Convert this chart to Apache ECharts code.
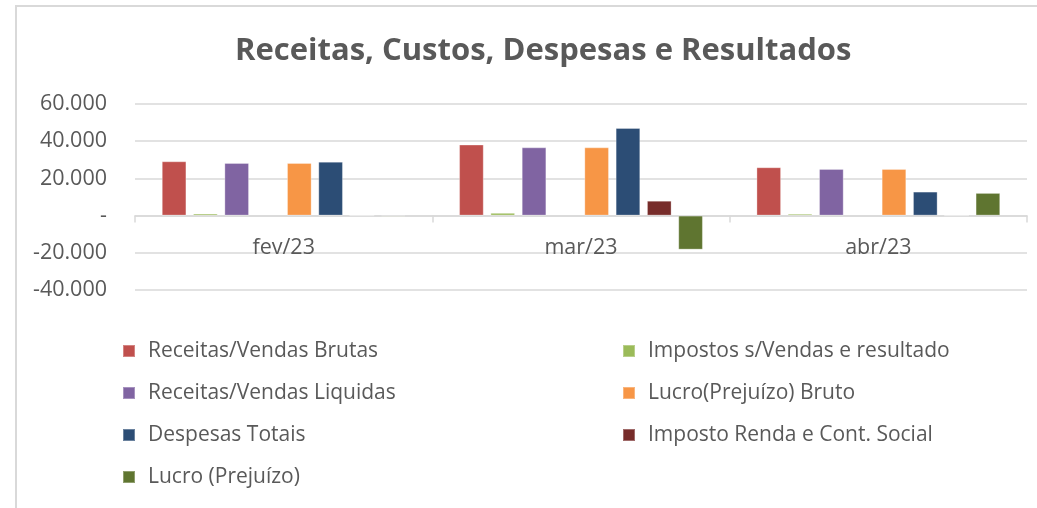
<!DOCTYPE html>
<html>
<head>
<meta charset="utf-8">
<script src="https://cdn.jsdelivr.net/npm/echarts@6/dist/echarts.min.js"></script>
<style>
html,body{margin:0;padding:0;background:#fff;}
#wrap{position:relative;width:1037px;height:508px;}
#frame{position:absolute;left:15px;top:5px;right:0;bottom:0;border-left:2px solid #d9d9d9;border-top:2px solid #d9d9d9;}
#chart{position:absolute;left:0;top:0;width:1037px;height:508px;}
</style>
</head>
<body>
<div id="wrap"><div id="frame"></div><div id="chart"></div></div>
<script>
const categories = ['fev/23', 'mar/23', 'abr/23'];
const receitasBrutas = [29200, 38200, 26000];
const impostosVendas = [1100, 1500, 1000];
const receitasLiquidas = [28300, 36700, 25100];
const custos = [null, null, null];
const lucroBruto = [28300, 36700, 25100];
const despesasTotais = [29000, 47100, 12900];
const impostoRenda = [0, 8000, 0];
const lucro = [-600, -18300, 12200];
const yTicks = [-40000, -20000, 0, 20000, 40000, 60000];

const fontFamily = '"Open Sans", sans-serif';
const textColor = '#595959';

function fmt(v) {
  if (v === 0) return '-';
  const s = Math.abs(v).toString().replace(/\B(?=(\d{3})+(?!\d))/g, '.');
  return (v < 0 ? '-' : '') + s;
}

const seriesDefs = [
  { name: 'Receitas/Vendas Brutas', data: receitasBrutas, color: '#C0504D' },
  { name: 'Impostos s/Vendas e resultado', data: impostosVendas, color: '#9BBB59' },
  { name: 'Receitas/Vendas Liquidas', data: receitasLiquidas, color: '#8064A2' },
  { name: 'Custos', data: custos, color: '#4BACC6' },
  { name: 'Lucro(Prejuízo) Bruto', data: lucroBruto, color: '#F79646' },
  { name: 'Despesas Totais', data: despesasTotais, color: '#2C4D75' },
  { name: 'Imposto Renda e Cont. Social', data: impostoRenda, color: '#772C2A' },
  { name: 'Lucro (Prejuízo)', data: lucro, color: '#5F7530' }
];

const legendText = { color: textColor, fontFamily: fontFamily, fontSize: 21, lineHeight: 22, padding: [0, 0, 0, 8] };

const chart = echarts.init(document.getElementById('chart'), null, { renderer: 'canvas' });
chart.setOption({
  animation: false,
  backgroundColor: 'transparent',
  title: {
    text: 'Receitas, Custos, Despesas e Resultados',
    left: 230,
    top: 31,
    textStyle: { color: textColor, fontFamily: fontFamily, fontWeight: 'bold', fontSize: 31 }
  },
  legend: [
    {
      orient: 'vertical', left: 122, top: 340, itemWidth: 12, itemHeight: 12, itemGap: 20, icon: 'rect', padding: 0,
      data: ['Receitas/Vendas Brutas', 'Receitas/Vendas Liquidas', 'Despesas Totais', 'Lucro (Prejuízo)'],
      textStyle: legendText
    },
    {
      orient: 'vertical', left: 622, top: 340, itemWidth: 12, itemHeight: 12, itemGap: 20, icon: 'rect', padding: 0,
      data: ['Impostos s/Vendas e resultado', 'Lucro(Prejuízo) Bruto', 'Imposto Renda e Cont. Social'],
      textStyle: legendText
    }
  ],
  grid: { left: 135, right: 10, top: 104, bottom: 218, containLabel: false },
  xAxis: {
    type: 'category',
    data: categories,
    axisLine: { onZero: true, lineStyle: { color: '#d9d9d9', width: 1.5 } },
    axisTick: { show: true, length: 7, lineStyle: { color: '#d9d9d9', width: 1.5 } },
    axisLabel: { color: textColor, fontFamily: fontFamily, fontSize: 21.5, margin: -53 }
  },
  yAxis: {
    type: 'value',
    min: yTicks[0],
    max: yTicks[yTicks.length - 1],
    interval: 20000,
    axisLine: { show: false },
    axisTick: { show: false },
    splitLine: { lineStyle: { color: '#d9d9d9', width: 1.5 } },
    axisLabel: { color: textColor, fontFamily: fontFamily, fontSize: 21.5, margin: 28, formatter: fmt }
  },
  series: seriesDefs.map(s => ({
    name: s.name,
    type: 'bar',
    data: s.data,
    barGap: '27%',
    barCategoryGap: '18%',
    itemStyle: { color: s.color, borderColor: 'rgba(255,255,255,0.3)', borderWidth: 1 }
  }))
});
</script>
</body>
</html>
